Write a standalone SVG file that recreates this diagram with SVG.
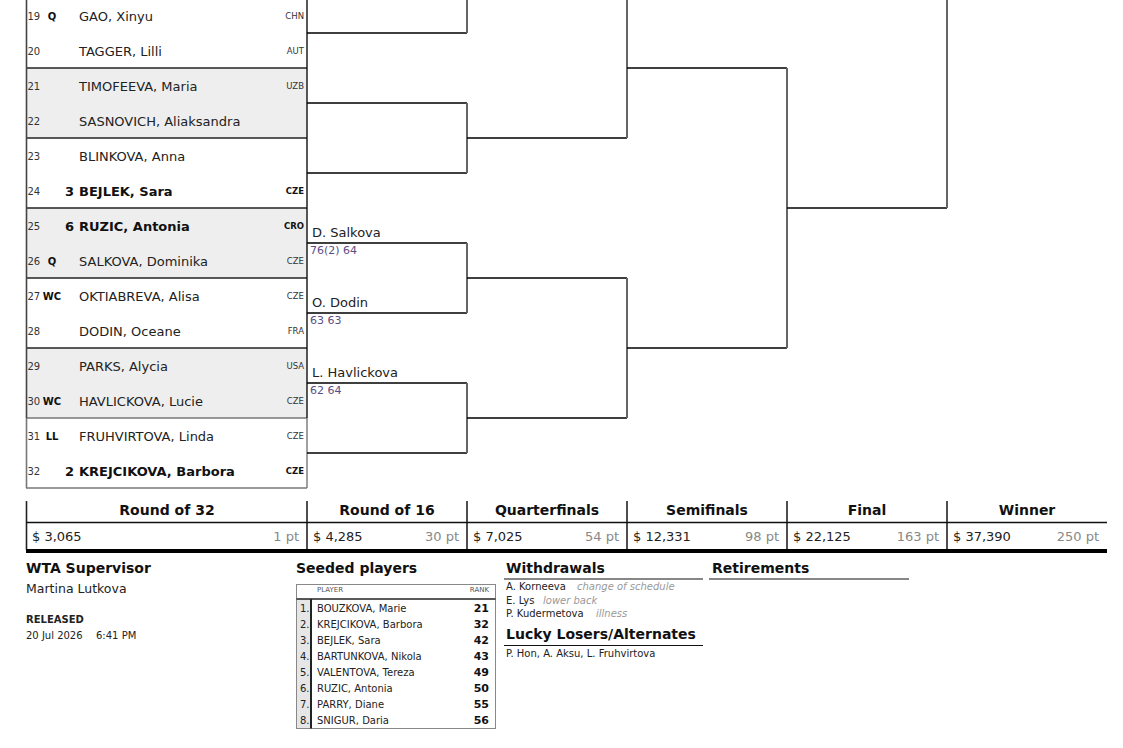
<svg xmlns="http://www.w3.org/2000/svg" width="1123" height="748" viewBox="0 0 1123 748">
<style>
text{font-family:"DejaVu Sans","Liberation Sans",sans-serif;fill:#222}
.num{font-size:10px;fill:#333}
.ent{font-size:10px;font-weight:bold;text-anchor:middle;fill:#111}
.seed{font-size:13px;font-weight:bold;text-anchor:end;fill:#111}
.nm{font-size:13px}
.nmb{font-size:13px;font-weight:bold;fill:#111}
.cty{font-size:8.5px;text-anchor:end;fill:#333}
.ctyb{font-size:8.5px;text-anchor:end;font-weight:bold;fill:#111}
.win{font-size:13px}
.sc{font-size:11px;fill:#5c4d86}
.h{stroke:#000;stroke-width:1.4;fill:none}
.v{stroke:#666;stroke-width:2;fill:none}
.hd{font-size:14px;font-weight:bold;text-anchor:middle;fill:#111}
.money{font-size:13px;fill:#222}
.pt{font-size:13px;fill:#888;text-anchor:end}
.ttl{font-size:14px;font-weight:bold;fill:#111}
.sm{font-size:10px;fill:#222}
.smi{font-size:10px;font-style:italic;fill:#999}
.sp{font-size:10px;fill:#222}
.spr{font-size:11px;font-weight:bold;fill:#111;text-anchor:end}
.tiny{font-size:7px;fill:#555}
</style>

<g id="draw-table">
  <rect x="26" y="-2" width="281" height="490" fill="#fff"/>
  <rect x="26" y="68" width="281" height="70" fill="#eeeeee"/>
  <rect x="26" y="208" width="281" height="70" fill="#eeeeee"/>
  <rect x="26" y="348" width="281" height="70" fill="#eeeeee"/>
  <g stroke="#222" stroke-width="1.4">
    <line x1="26" y1="68" x2="307" y2="68"/>
    <line x1="26" y1="138" x2="307" y2="138"/>
    <line x1="26" y1="208" x2="307" y2="208"/>
    <line x1="26" y1="278" x2="307" y2="278"/>
    <line x1="26" y1="348" x2="307" y2="348"/>
  </g>
  <g stroke="#777" stroke-width="1.4">
    <line x1="26" y1="418" x2="307" y2="418"/>
    <line x1="26" y1="488" x2="307" y2="488"/>
  </g>
  <line x1="26.5" y1="0" x2="26.5" y2="418" stroke="#444" stroke-width="1.6"/>
  <line x1="26.5" y1="418" x2="26.5" y2="488" stroke="#777" stroke-width="1.6"/>
  <line x1="307" y1="0" x2="307" y2="418" stroke="#111" stroke-width="1.4"/>
  <line x1="307" y1="418" x2="307" y2="488" stroke="#777" stroke-width="1.4"/>
</g>

<g id="p19"><text class="num" x="27.5" y="19.5">19</text><text class="ent" x="52" y="19.5">Q</text><text class="nm" x="79" y="20.5">GAO, Xinyu</text><text class="cty" x="304" y="19">CHN</text></g>
<g id="p20"><text class="num" x="27.5" y="54.5">20</text><text class="nm" x="79" y="55.5">TAGGER, Lilli</text><text class="cty" x="304" y="54">AUT</text></g>
<g id="p21"><text class="num" x="27.5" y="89.5">21</text><text class="nm" x="79" y="90.5">TIMOFEEVA, Maria</text><text class="cty" x="304" y="89">UZB</text></g>
<g id="p22"><text class="num" x="27.5" y="124.5">22</text><text class="nm" x="79" y="125.5">SASNOVICH, Aliaksandra</text></g>
<g id="p23"><text class="num" x="27.5" y="159.5">23</text><text class="nm" x="79" y="160.5">BLINKOVA, Anna</text></g>
<g id="p24"><text class="num" x="27.5" y="194.5">24</text><text class="seed" x="74" y="195.5">3</text><text class="nmb" x="79" y="195.5">BEJLEK, Sara</text><text class="ctyb" x="304" y="194">CZE</text></g>
<g id="p25"><text class="num" x="27.5" y="229.5">25</text><text class="seed" x="74" y="230.5">6</text><text class="nmb" x="79" y="230.5">RUZIC, Antonia</text><text class="ctyb" x="304" y="229">CRO</text></g>
<g id="p26"><text class="num" x="27.5" y="264.5">26</text><text class="ent" x="52" y="264.5">Q</text><text class="nm" x="79" y="265.5">SALKOVA, Dominika</text><text class="cty" x="304" y="264">CZE</text></g>
<g id="p27"><text class="num" x="27.5" y="299.5">27</text><text class="ent" x="52" y="299.5">WC</text><text class="nm" x="79" y="300.5">OKTIABREVA, Alisa</text><text class="cty" x="304" y="299">CZE</text></g>
<g id="p28"><text class="num" x="27.5" y="334.5">28</text><text class="nm" x="79" y="335.5">DODIN, Oceane</text><text class="cty" x="304" y="334">FRA</text></g>
<g id="p29"><text class="num" x="27.5" y="369.5">29</text><text class="nm" x="79" y="370.5">PARKS, Alycia</text><text class="cty" x="304" y="369">USA</text></g>
<g id="p30"><text class="num" x="27.5" y="404.5">30</text><text class="ent" x="52" y="404.5">WC</text><text class="nm" x="79" y="405.5">HAVLICKOVA, Lucie</text><text class="cty" x="304" y="404">CZE</text></g>
<g id="p31"><text class="num" x="27.5" y="439.5">31</text><text class="ent" x="52" y="439.5">LL</text><text class="nm" x="79" y="440.5">FRUHVIRTOVA, Linda</text><text class="cty" x="304" y="439">CZE</text></g>
<g id="p32"><text class="num" x="27.5" y="474.5">32</text><text class="seed" x="74" y="475.5">2</text><text class="nmb" x="79" y="475.5">KREJCIKOVA, Barbora</text><text class="ctyb" x="304" y="474">CZE</text></g>

<g id="connectors">
  <path class="h" d="M307 33H467M307 103H467M307 173H467M307 243H467M307 313H467M307 383H467M307 453H467"/>
  <path class="v" d="M467 0V33M467 103V173M467 243V313M467 383V453"/>
  <path class="h" d="M467 138H627M467 278H627M467 418H627"/>
  <path class="v" d="M627 0V138M627 278V418"/>
  <path class="h" d="M627 68H787M627 348H787"/>
  <path class="v" d="M787 68V348"/>
  <path class="h" d="M787 208H947"/>
  <path class="v" d="M947 0V208"/>
</g>

<g id="r16-results">
  <text class="win" x="312" y="237">D. Salkova</text><text class="sc" x="310" y="254">76(2) 64</text>
  <text class="win" x="312" y="307">O. Dodin</text><text class="sc" x="310" y="324">63 63</text>
  <text class="win" x="312" y="377">L. Havlickova</text><text class="sc" x="310" y="394">62 64</text>
</g>

<g id="prize-table">
  <g stroke="#222" stroke-width="1.6">
    <line x1="26.5" y1="501" x2="26.5" y2="550"/>
    <line x1="307" y1="501" x2="307" y2="550"/>
    <line x1="467" y1="501" x2="467" y2="550"/>
    <line x1="627" y1="501" x2="627" y2="550"/>
    <line x1="787" y1="501" x2="787" y2="550"/>
    <line x1="947" y1="501" x2="947" y2="550"/>
  </g>
  <line x1="26" y1="522.5" x2="1107" y2="522.5" stroke="#111" stroke-width="1.4"/>
  <rect x="26" y="549" width="1081" height="4" fill="#000"/>
  <text class="hd" x="167" y="515">Round of 32</text>
  <text class="hd" x="387" y="515">Round of 16</text>
  <text class="hd" x="547" y="515">Quarterfinals</text>
  <text class="hd" x="707" y="515">Semifinals</text>
  <text class="hd" x="867" y="515">Final</text>
  <text class="hd" x="1027" y="515">Winner</text>
  <text class="money" x="32" y="540.5">$ 3,065</text><text class="pt" x="299" y="540.5">1 pt</text>
  <text class="money" x="313" y="540.5">$ 4,285</text><text class="pt" x="459" y="540.5">30 pt</text>
  <text class="money" x="473" y="540.5">$ 7,025</text><text class="pt" x="619" y="540.5">54 pt</text>
  <text class="money" x="633" y="540.5">$ 12,331</text><text class="pt" x="779" y="540.5">98 pt</text>
  <text class="money" x="793" y="540.5">$ 22,125</text><text class="pt" x="939" y="540.5">163 pt</text>
  <text class="money" x="953" y="540.5">$ 37,390</text><text class="pt" x="1099" y="540.5">250 pt</text>
</g>

<g id="supervisor">
  <text class="ttl" x="26" y="573">WTA Supervisor</text>
  <text x="26" y="593" font-size="12.5" fill="#333">Martina Lutkova</text>
  <text x="26" y="622.5" font-size="10" font-weight="bold" fill="#111">RELEASED</text>
  <text class="sm" x="26" y="639">20 Jul 2026</text>
  <text class="sm" x="96" y="639">6:41 PM</text>
</g>

<g id="seeded">
  <text class="ttl" x="296" y="573">Seeded players</text>
  <rect x="296.5" y="584.5" width="199" height="144" fill="#fff" stroke="#888" stroke-width="1"/>
  <rect x="297" y="599" width="13.5" height="129" fill="#e6e6e6"/>
  <line x1="296.5" y1="599" x2="495.5" y2="599" stroke="#222" stroke-width="1.4"/>
  <line x1="311" y1="599" x2="311" y2="728.5" stroke="#222" stroke-width="2"/>
  <text class="tiny" x="317" y="592">PLAYER</text>
  <text class="tiny" x="489" y="592" text-anchor="end">RANK</text>
  <g class="sp">
    <text class="sp" x="309.5" y="611.5" text-anchor="end">1.</text><text class="sp" x="317" y="611.5">BOUZKOVA, Marie</text><text class="spr" x="489" y="612">21</text>
    <text class="sp" x="309.5" y="627.5" text-anchor="end">2.</text><text class="sp" x="317" y="627.5">KREJCIKOVA, Barbora</text><text class="spr" x="489" y="628">32</text>
    <text class="sp" x="309.5" y="643.5" text-anchor="end">3.</text><text class="sp" x="317" y="643.5">BEJLEK, Sara</text><text class="spr" x="489" y="644">42</text>
    <text class="sp" x="309.5" y="659.5" text-anchor="end">4.</text><text class="sp" x="317" y="659.5">BARTUNKOVA, Nikola</text><text class="spr" x="489" y="660">43</text>
    <text class="sp" x="309.5" y="675.5" text-anchor="end">5.</text><text class="sp" x="317" y="675.5">VALENTOVA, Tereza</text><text class="spr" x="489" y="676">49</text>
    <text class="sp" x="309.5" y="691.5" text-anchor="end">6.</text><text class="sp" x="317" y="691.5">RUZIC, Antonia</text><text class="spr" x="489" y="692">50</text>
    <text class="sp" x="309.5" y="707.5" text-anchor="end">7.</text><text class="sp" x="317" y="707.5">PARRY, Diane</text><text class="spr" x="489" y="708">55</text>
    <text class="sp" x="309.5" y="723.5" text-anchor="end">8.</text><text class="sp" x="317" y="723.5">SNIGUR, Daria</text><text class="spr" x="489" y="724">56</text>
  </g>
</g>

<g id="withdrawals">
  <text class="ttl" x="506" y="573">Withdrawals</text>
  <line x1="504" y1="579" x2="703" y2="579" stroke="#111" stroke-width="1.2"/>
  <text class="sm" x="506" y="590">A. Korneeva</text><text class="smi" x="577" y="590">change of schedule</text>
  <text class="sm" x="506" y="603.5">E. Lys</text><text class="smi" x="543" y="603.5">lower back</text>
  <text class="sm" x="506" y="617">P. Kudermetova</text><text class="smi" x="596" y="617">illness</text>
</g>

<g id="lucky-losers">
  <text class="ttl" x="506" y="639">Lucky Losers/Alternates</text>
  <line x1="504" y1="645.5" x2="703" y2="645.5" stroke="#111" stroke-width="1.2"/>
  <text class="sm" x="506" y="656.5">P. Hon, A. Aksu, L. Fruhvirtova</text>
</g>

<g id="retirements">
  <text class="ttl" x="712" y="573">Retirements</text>
  <line x1="709" y1="579" x2="909" y2="579" stroke="#111" stroke-width="1.2"/>
</g>
</svg>
